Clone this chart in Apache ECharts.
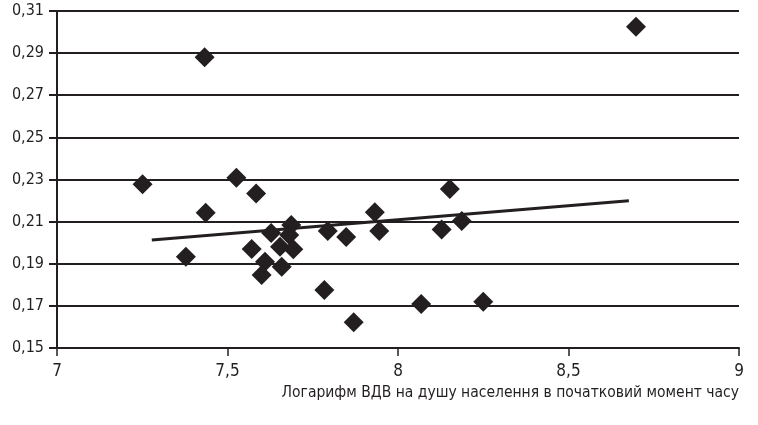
<!DOCTYPE html>
<html>
<head>
<meta charset="utf-8">
<script src="https://cdn.jsdelivr.net/npm/echarts@6/dist/echarts.min.js"></script>
<style>html,body{margin:0;padding:0;background:#fff}#c{width:758px;height:425px}</style>
</head>
<body>
<div id="c"></div>
<script>
const xValues = [7.251, 7.433, 7.378, 7.436, 7.526, 7.584, 7.571, 7.628, 7.687, 7.681, 7.654, 7.693, 7.610, 7.659, 7.600, 7.794, 7.848, 7.932, 7.945, 8.152, 8.128, 8.187, 7.784, 7.870, 8.068, 8.250, 8.698];
const yValues = [0.2277, 0.2880, 0.1933, 0.2142, 0.2308, 0.2233, 0.1970, 0.2046, 0.2084, 0.2036, 0.1981, 0.1969, 0.1910, 0.1886, 0.1846, 0.2055, 0.2027, 0.2144, 0.2055, 0.2255, 0.2063, 0.2103, 0.1775, 0.1622, 0.1709, 0.1720, 0.3025];
const trendX = [7.278, 8.677];
const trendY = [0.2013, 0.2199];
const xTicks = [7, 7.5, 8, 8.5, 9];
const yTicks = [0.15, 0.17, 0.19, 0.21, 0.23, 0.25, 0.27, 0.29, 0.31];
const xTitle = 'Логарифм ВДВ на душу населення в початковий момент часу';

const FONT = '"Liberation Sans Narrow", "DejaVu Sans Condensed", "Roboto", sans-serif';
const INK = '#231f20';
const fmt = v => String(v).replace('.', ',');
const chart = echarts.init(document.getElementById('c'));
chart.setOption({
  animation: false,
  backgroundColor: '#fff',
  grid: { left: 57, right: 19, top: 11, bottom: 77 },
  xAxis: {
    type: 'value', min: xTicks[0], max: xTicks[xTicks.length - 1], interval: 0.5,
    axisLine: { show: true, lineStyle: { color: INK, width: 2 } },
    axisTick: { show: true, length: 8, lineStyle: { color: INK, width: 1.5 } },
    splitLine: { show: false },
    axisLabel: { formatter: fmt, color: INK, fontFamily: FONT, fontSize: 17, margin: 15 },
    name: xTitle, nameLocation: 'end', nameGap: 0,
    nameTextStyle: { color: INK, fontFamily: FONT, fontSize: 15.5, align: 'right', verticalAlign: 'top', padding: [37, 0, 0, 0] }
  },
  yAxis: {
    type: 'value', min: yTicks[0], max: yTicks[yTicks.length - 1], interval: 0.02,
    axisLine: { show: true, lineStyle: { color: INK, width: 2 } },
    axisTick: { show: true, length: 8, lineStyle: { color: INK, width: 2 } },
    splitLine: { show: true, lineStyle: { color: INK, width: 2 } },
    axisLabel: { formatter: v => fmt(+v.toFixed(2)), color: INK, fontFamily: FONT, fontSize: 16, margin: 13 }
  },
  series: [
    {
      type: 'scatter', symbol: 'diamond', symbolSize: 20,
      itemStyle: { color: INK, opacity: 1 },
      data: xValues.map((x, i) => [x, yValues[i]])
    },
    {
      type: 'line', symbol: 'none', silent: true,
      lineStyle: { color: INK, width: 3 },
      data: trendX.map((x, i) => [x, trendY[i]])
    }
  ]
});
</script>
</body>
</html>
